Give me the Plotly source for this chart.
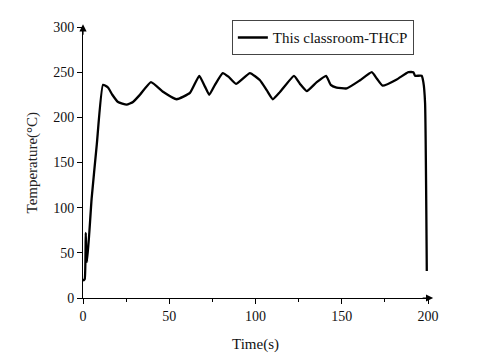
import plotly.graph_objects as go

time_s = [0, 1.0, 1.6, 2.0, 2.4, 5.0, 8.0, 11.6, 14.5, 17.0, 20.3, 25.3, 29.0, 33.0, 39.4,
          46.6, 54.3, 62.0, 67.4, 70.7, 73.2, 76.5, 81.0, 84.3, 88.7, 96.8, 102.6, 106.5,
          110.0, 114.2, 122.3, 125.8, 129.7, 135.5, 140.9, 143.6, 147.0, 152.9, 160.6,
          167.4, 170.3, 173.7, 181.9, 188.6, 191.5, 192.5, 196.3, 197.3, 198.3, 199.3]
temperature = [19, 21, 72, 45, 40, 110, 170, 236, 233, 225, 217, 214, 217, 225, 239,
               228, 220, 227, 246, 234, 225, 236, 249, 245, 237, 249, 241, 230,
               220, 228, 246, 237, 229, 239, 246, 236, 233, 232, 241,
               250, 243, 235, 242, 250, 250, 246, 246, 239, 216, 30]

font = "Liberation Serif, Times New Roman, serif"

fig = go.Figure(
    go.Scatter(
        x=time_s,
        y=temperature,
        mode="lines",
        name="This classroom-THCP",
        line=dict(color="black", width=2.3, shape="spline", smoothing=0.4),
    )
)

# the page body adds an 8px offset, margins compensate for it
fig.update_layout(
    width=480,
    height=356,
    template="plotly_white",
    plot_bgcolor="white",
    paper_bgcolor="white",
    margin=dict(l=75, r=60, t=12, b=66),
    font=dict(family=font, size=14, color="#111"),
    showlegend=True,
    legend=dict(
        x=0.959, y=1.025, xanchor="right", yanchor="top",
        bordercolor="#444", borderwidth=1, bgcolor="white",
        font=dict(family=font, size=15, color="#111"),
        itemwidth=30, tracegroupgap=0,
    ),
)

fig.update_xaxes(
    range=[0, 200],
    tickvals=[0, 50, 100, 150, 200],
    automargin=False,
    showgrid=False, zeroline=False,
    showline=True, linecolor="black", linewidth=1,
    ticks="outside", ticklen=5, tickcolor="black",
    minor=dict(ticks="outside", dtick=25, ticklen=3, tickcolor="black"),
    title=dict(text="Time(s)", font=dict(family=font, size=15)),
    tickfont=dict(family=font, size=14),
)
fig.update_yaxes(
    range=[0, 300],
    tickvals=[0, 50, 100, 150, 200, 250, 300],
    automargin=False,
    showgrid=False, zeroline=False,
    showline=True, linecolor="black", linewidth=1,
    ticks="outside", ticklen=5, tickcolor="black",
    tickfont=dict(family=font, size=14),
)

fig.add_annotation(
    text="Temperature(\u00b0C)", textangle=-90, showarrow=False,
    x=-0.145, y=0.5, xref="paper", yref="paper", xanchor="center", yanchor="middle",
    font=dict(family=font, size=15, color="#222"),
)

# axis arrows
fig.add_annotation(x=1.015, y=0, xref="paper", yref="paper", ax=-12, ay=0,
                   showarrow=True, arrowhead=2, arrowsize=1.2, arrowwidth=1.2,
                   arrowcolor="black", text="")
fig.add_annotation(x=0, y=1.01, xref="paper", yref="paper", ax=0, ay=12,
                   showarrow=True, arrowhead=2, arrowsize=1.2, arrowwidth=1.2,
                   arrowcolor="black", text="")

fig.write_html("out.html")
